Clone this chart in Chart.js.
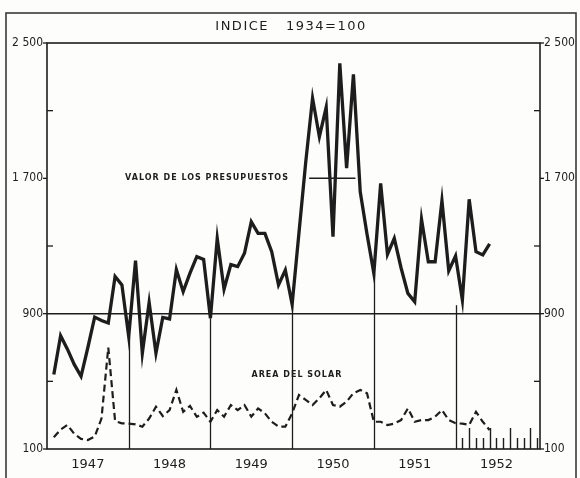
<!DOCTYPE html>
<html>
<head>
<meta charset="utf-8">
<script src="https://cdn.jsdelivr.net/npm/chart.js@4.4.1/dist/chart.umd.min.js"></script>
<style>
  html, body { margin: 0; padding: 0; background: #fdfdfc; }
  #wrap { width: 580px; height: 478px; position: relative; }
</style>
</head>
<body>
<div id="wrap"><canvas id="chart"></canvas></div>
<script>
// years on the bottom axis, one label per year
const yearLabels = ['1947', '1948', '1949', '1950', '1951', '1952'];
// labelled values of the index scale (1934 = 100)
const yTickLabels = { 100: '100', 900: '900', 1700: '1 700', 2500: '2 500' };

// monthly values, feb 1947 .. jun 1952
const presupuestos = [
  540, 770, 690, 600, 530, 700, 880, 860, 845, 1120, 1070,
  765, 1213, 666, 967, 666, 878, 869, 1160, 1030, 1140, 1237, 1221,
  873, 1345, 1044, 1190, 1178, 1257, 1443, 1375, 1375, 1266, 1070, 1158,
  955, 1377, 1797, 2173, 1946, 2120, 1355, 2380, 1760, 2315, 1620, 1370,
  1138, 1670, 1250, 1345, 1170, 1020, 970, 1458, 1207, 1207, 1568, 1154,
  1241, 980, 1576, 1266, 1247, 1312
];
const areaSolar = [
  170, 215, 242, 190, 160, 153, 173, 280, 700, 265, 252,
  250, 246, 232, 280, 350, 295, 330, 450, 320, 355, 290, 315,
  261, 330, 291, 360, 330, 360, 291, 340, 311, 261, 232, 232,
  311, 419, 390, 360, 400, 449, 360, 350, 380, 430, 449, 429,
  261, 261, 242, 250, 271, 340, 261, 271, 271, 291, 330, 271,
  252, 250, 242, 320, 261, 212
];

const ink = '#1d1d1d';

function line(ctx, x1, y1, x2, y2) {
  ctx.beginPath();
  ctx.moveTo(x1, y1);
  ctx.lineTo(x2, y2);
  ctx.stroke();
}

const decorations = {
  id: 'decorations',
  beforeDatasetsDraw(chart) {
    const { ctx, chartArea: a, scales: { x, y } } = chart;
    ctx.save();
    ctx.strokeStyle = ink;
    ctx.lineWidth = 1.5;
    // 900 reference line across the chart
    const y900 = y.getPixelForValue(900);
    line(ctx, a.left, y900, a.right, y900);
    // short 1700 line inside the 1950 peak
    const y1700 = y.getPixelForValue(1700);
    line(ctx, x.getPixelForValue(38.5), y1700, x.getPixelForValue(45.3), y1700);
    // year separators, drawn up to the budget line (1952 one stops near 900)
    ctx.lineWidth = 1.3;
    [12, 24, 36, 48, 60].forEach((m) => {
      const px = Math.round(x.getPixelForValue(m)) + 0.5;
      const top = m === 60 ? 950 : presupuestos[m - 1];
      line(ctx, px, a.bottom, px, y.getPixelForValue(top));
    });
    ctx.restore();
  },
  afterDatasetsDraw(chart) {
    const { ctx, chartArea: a, scales: { x, y } } = chart;
    ctx.save();
    ctx.strokeStyle = ink;
    ctx.fillStyle = ink;

    // plot box
    ctx.lineWidth = 1.6;
    ctx.strokeRect(a.left, a.top, a.right - a.left, a.bottom - a.top);

    // tick marks on both sides: labelled ones outside, others inside
    ctx.lineWidth = 1.3;
    [100, 500, 900, 1300, 1700, 2100, 2500].forEach((v) => {
      const py = y.getPixelForValue(v);
      if (yTickLabels[v]) {
        line(ctx, a.left - 4, py, a.left, py);
        line(ctx, a.right, py, a.right + 4, py);
      } else {
        line(ctx, a.left, py, a.left + 6, py);
        line(ctx, a.right - 6, py, a.right, py);
      }
    });

    // monthly marks along the bottom of 1952
    ctx.lineWidth = 1.4;
    for (let m = 61; m <= 72; m++) {
      const px = Math.round(x.getPixelForValue(m)) + 0.5;
      const len = [62, 65, 68, 71].includes(m) ? 21 : 11;
      line(ctx, px, a.bottom, px, a.bottom - len);
    }

    // series names
    ctx.textAlign = 'center';
    ctx.textBaseline = 'middle';
    ctx.font = 'bold 8px "DejaVu Sans"';
    ctx.letterSpacing = '1px';
    ctx.fillText('VALOR DE LOS PRESUPUESTOS', x.getPixelForValue(23.5), y.getPixelForValue(1700));
    ctx.fillText('AREA DEL SOLAR', x.getPixelForValue(36.7), y.getPixelForValue(540));

    // heading
    ctx.font = '13px "DejaVu Sans"';
    ctx.letterSpacing = '1.5px';
    ctx.fillText('INDICE   1934=100', 291, 27);

    // outer frame of the figure
    ctx.letterSpacing = '0px';
    ctx.lineWidth = 1.6;
    ctx.strokeStyle = '#3a3a3a';
    ctx.strokeRect(6, 13, 570, 470);
    ctx.restore();
  }
};

const yTicks = {
  stepSize: 400,
  padding: 4,
  color: ink,
  font: { family: '"DejaVu Sans Condensed"', size: 12 },
  callback: (v) => yTickLabels[v] || ''
};

new Chart(document.getElementById('chart'), {
  type: 'line',
  data: {
    datasets: [
      {
        label: 'Valor de los presupuestos',
        data: presupuestos.map((v, i) => ({ x: i + 1, y: v })),
        borderColor: ink,
        borderWidth: 3.3,
        pointRadius: 0,
        tension: 0,
      },
      {
        label: 'Area del solar',
        data: areaSolar.map((v, i) => ({ x: i + 1, y: v })),
        borderColor: ink,
        borderWidth: 2.2,
        borderDash: [7, 4],
        pointRadius: 0,
        tension: 0,
      },
    ],
  },
  options: {
    responsive: true,
    maintainAspectRatio: false,
    animation: false,
    layout: { padding: { top: 43, left: 0, right: 0, bottom: 0 } },
    plugins: {
      legend: { display: false },
      tooltip: { enabled: false },
    },
    scales: {
      x: {
        type: 'linear',
        min: 0,
        max: 72.4,
        grid: { display: false, drawTicks: false },
        border: { display: false },
        afterBuildTicks: (scale) => {
          scale.ticks = yearLabels.map((_, i) => ({ value: 6 + 12 * i }));
        },
        afterFit: (scale) => { scale.height = 29; },
        ticks: {
          autoSkip: false,
          maxRotation: 0,
          padding: 8,
          color: ink,
          font: { family: '"DejaVu Sans"', size: 13 },
          callback: (v, index) => yearLabels[index],
        },
      },
      y: {
        position: 'left',
        min: 100,
        max: 2500,
        grid: { display: false, drawTicks: false },
        border: { display: false },
        afterFit: (scale) => { scale.width = 47; },
        ticks: yTicks,
      },
      y2: {
        position: 'right',
        min: 100,
        max: 2500,
        grid: { display: false, drawTicks: false },
        border: { display: false },
        afterFit: (scale) => { scale.width = 40; },
        ticks: yTicks,
      },
    },
  },
  plugins: [decorations],
});
</script>
</body>
</html>
